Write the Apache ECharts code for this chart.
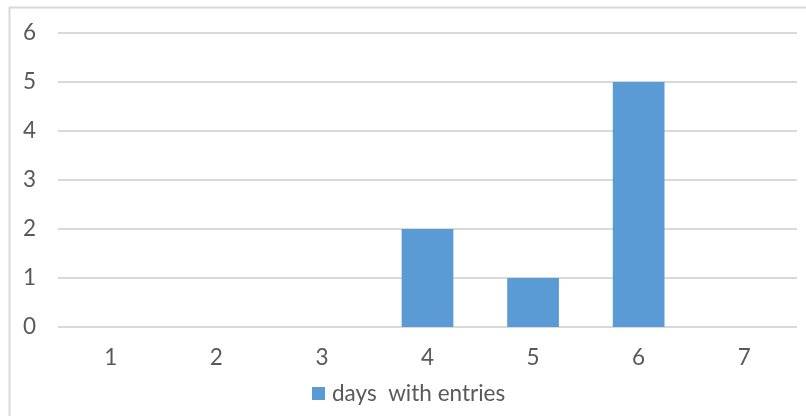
<!DOCTYPE html>
<html>
<head>
<meta charset="utf-8">
<script src="https://cdn.jsdelivr.net/npm/echarts@6/dist/echarts.min.js"></script>
<style>
  html, body { margin: 0; padding: 0; background: #fff; }
  #chart { width: 806px; height: 416px; }
</style>
</head>
<body>
<div id="chart"></div>
<script>
// Categories along the x axis and count of days per category
const categories = ['1', '2', '3', '4', '5', '6', '7'];
const daysWithEntries = [0, 0, 0, 2, 1, 5, 0];
const seriesName = 'days  with entries';

const textColor = '#595959';
const gridColor = '#d9d9d9';
const barColor = '#5b9bd5';
const fontFamily = 'Lato, "Noto Sans", sans-serif';

const chart = echarts.init(document.getElementById('chart'), null, { renderer: 'canvas' });
chart.setOption({
  animation: false,
  textStyle: { fontFamily: fontFamily },
  graphic: [{
    type: 'rect',
    shape: { x: 9.5, y: 7.5, width: 900, height: 600 },
    style: { fill: 'none', stroke: gridColor, lineWidth: 2 },
    silent: true
  }],
  grid: { left: 58, right: 9, top: 33, bottom: 89, containLabel: false },
  legend: {
    bottom: 6,
    left: 307,
    itemWidth: 13,
    itemHeight: 13,
    icon: 'rect',
    textStyle: { color: textColor, fontSize: 22.5, fontFamily: fontFamily, padding: [0, 0, 0, 2] },
    data: [seriesName]
  },
  xAxis: {
    type: 'category',
    data: categories,
    axisLine: { show: false },
    axisTick: { show: false },
    axisLabel: { color: textColor, fontSize: 22.5, margin: 19, fontFamily: fontFamily }
  },
  yAxis: {
    type: 'value',
    min: 0,
    max: 6,
    interval: 1,
    axisLine: { show: false },
    axisTick: { show: false },
    axisLabel: { color: textColor, fontSize: 22.5, margin: 22, fontFamily: fontFamily },
    splitLine: { lineStyle: { color: gridColor, width: 2 } }
  },
  series: [{
    name: seriesName,
    type: 'bar',
    data: daysWithEntries,
    barWidth: '49%',
    itemStyle: { color: barColor }
  }]
});
</script>
</body>
</html>
